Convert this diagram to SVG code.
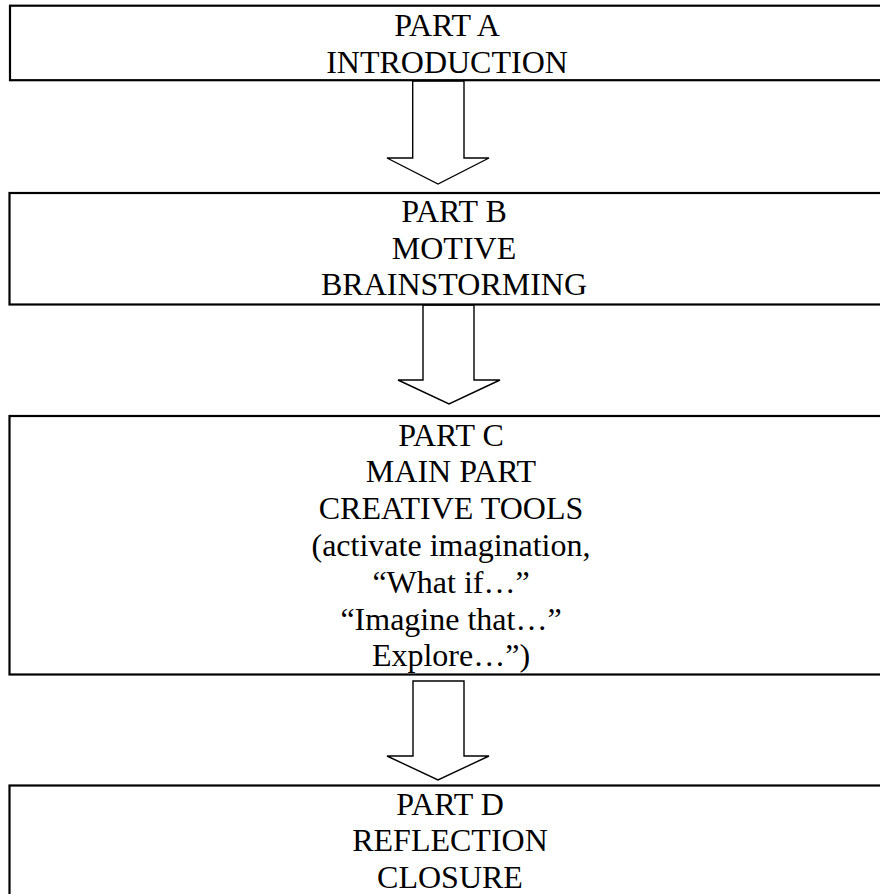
<svg xmlns="http://www.w3.org/2000/svg" width="880" height="894" viewBox="0 0 880 894">
<style>
.box{fill:#fff;stroke:#000;stroke-width:2.2}
.arr{fill:#fff;stroke:#000;stroke-width:1.4;stroke-linejoin:miter}
text{font-family:"Liberation Serif","Times New Roman",serif;font-size:32px;fill:#000;text-anchor:middle}
</style>
<rect width="880" height="894" fill="#fff"/>
<g id="connectors">
<polygon class="arr" points="412.7,81 464,81 464,158 489,158 438,184 387,158 412.7,158"/>
<polygon class="arr" points="423,305 474,305 474,380 500,380 449,404 398,380 423,380"/>
<polygon class="arr" points="413,681 464,681 464,756 489,756 438,780 387,756 413,756"/>
</g>
<g id="partA">
<rect class="box" x="10" y="5.7" width="880" height="74.5"/>
<text x="447" y="36">PART A</text>
<text x="447" y="73">INTRODUCTION</text>
</g>
<g id="partB">
<rect class="box" x="9.5" y="193" width="890" height="111.5"/>
<text x="454" y="222">PART B</text>
<text x="454" y="258.5">MOTIVE</text>
<text x="454" y="295">BRAINSTORMING</text>
</g>
<g id="partC">
<rect class="box" x="9.5" y="416" width="890" height="258.5"/>
<text x="451" y="445.5">PART C</text>
<text x="451" y="482.3">MAIN PART</text>
<text x="451" y="519.1">CREATIVE TOOLS</text>
<text x="451" y="555.9">(activate imagination,</text>
<text x="451" y="592.7">“What if…”</text>
<text x="451" y="629.5">“Imagine that…”</text>
<text x="451" y="666.3">Explore…”)</text>
</g>
<g id="partD">
<rect class="box" x="9.5" y="785.5" width="890" height="130"/>
<text x="450" y="814.5">PART D</text>
<text x="450" y="851.3">REFLECTION</text>
<text x="450" y="888.1">CLOSURE</text>
</g>
</svg>
